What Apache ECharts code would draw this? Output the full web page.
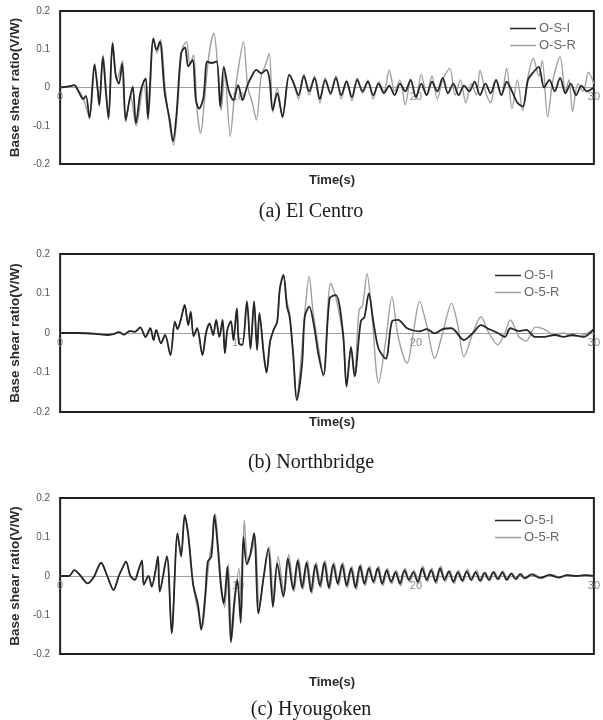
<!DOCTYPE html>
<html>
<head>
<meta charset="utf-8">
<script src="https://cdn.jsdelivr.net/npm/echarts@6/dist/echarts.min.js"></script>
<style>
  html, body { margin: 0; padding: 0; background: #fff; }
  #chart { width: 603px; height: 720px; }
</style>
</head>
<body>
<div id="chart"></div>
<script>
// tick labels
var xTicks = [0, 10, 20, 30];
var yTicks = [-0.2, -0.1, 0, 0.1, 0.2];

var captions = ['(a) El Centro', '(b) Northbridge', '(c) Hyougoken'];
var legendA = ['O-S-I', 'O-S-R'];
var legendB = ['O-5-I', 'O-5-R'];
var legendC = ['O-5-I', 'O-5-R'];

// (a) El Centro, [time s, V/W]
var elCentroI = [[0,0],[0.5,0.003],[0.8,0.006],[1.0,-0.007],[1.3,-0.03],[1.45,-0.022],[1.65,-0.08],[1.93,0.06],[2.1,0.0],[2.2,-0.045],[2.4,0.08],[2.57,-0.01],[2.72,-0.08],[2.94,0.115],[3.13,0.03],[3.3,0.01],[3.49,0.063],[3.68,-0.085],[3.9,-0.033],[4.08,0.002],[4.26,-0.094],[4.5,-0.015],[4.69,0.015],[4.82,0.024],[4.93,-0.08],[5.24,0.128],[5.42,0.098],[5.6,0.12],[5.88,-0.015],[6.16,-0.085],[6.34,-0.14],[6.53,-0.076],[6.8,0.09],[7.02,0.105],[7.2,0.055],[7.44,0.072],[7.63,-0.033],[7.81,-0.055],[8.05,-0.028],[8.27,0.068],[8.5,0.064],[8.79,0.068],[9.0,-0.05],[9.2,0.054],[9.47,-0.007],[9.74,-0.033],[10.0,0.006],[10.26,-0.033],[10.5,0.002],[10.75,0.028],[11.03,0.046],[11.3,0.037],[11.58,0.046],[11.76,0.024],[11.95,-0.059],[12.2,-0.015],[12.5,-0.076],[12.87,0.033],[13.1,0.015],[13.4,-0.02],[13.7,0.03],[14.0,-0.01],[14.3,0.025],[14.6,-0.03],[14.9,0.02],[15.2,-0.015],[15.5,0.025],[15.8,-0.02],[16.1,0.015],[16.4,-0.025],[16.7,0.02],[17.0,-0.01],[17.3,0.015],[17.6,-0.02],[17.9,0.01],[18.2,-0.015],[18.5,0.005],[18.8,-0.02],[19.1,0.01],[19.4,-0.01],[19.7,0.02],[20.0,-0.025],[20.3,0.01],[20.6,-0.02],[20.9,0.015],[21.2,-0.01],[21.5,0.025],[21.8,-0.015],[22.1,0.01],[22.4,-0.02],[22.7,0.005],[23.0,-0.01],[23.3,0.015],[23.6,-0.02],[23.9,0.01],[24.2,-0.015],[24.5,0.02],[24.8,-0.02],[25.1,0.015],[25.4,-0.01],[25.7,-0.04],[26.0,-0.05],[26.3,0.02],[26.6,0.04],[26.9,0.054],[27.2,0.0],[27.5,0.02],[27.8,-0.01],[28.1,0.025],[28.4,-0.015],[28.7,0.01],[29.0,-0.02],[29.3,0.005],[29.6,-0.01],[30,0.0]];
var elCentroR = [[0,0],[0.5,0.003],[0.8,0.006],[1.0,-0.005],[1.3,-0.028],[1.65,-0.078],[1.95,0.062],[2.2,-0.05],[2.42,0.085],[2.72,-0.085],[2.96,0.12],[3.2,0.02],[3.5,0.07],[3.7,-0.09],[3.95,-0.02],[4.28,-0.1],[4.7,0.01],[4.95,-0.085],[5.25,0.13],[5.45,0.09],[5.65,0.125],[5.9,0.0],[6.2,-0.11],[6.38,-0.15],[6.6,-0.05],[6.85,0.1],[7.1,0.12],[7.3,0.06],[7.5,0.085],[7.7,-0.06],[7.9,-0.12],[8.1,-0.04],[8.35,0.08],[8.64,0.142],[8.85,0.06],[9.05,-0.06],[9.25,0.04],[9.56,-0.128],[9.8,-0.02],[10.05,0.06],[10.3,0.12],[10.55,0.0],[10.8,-0.04],[11.03,-0.085],[11.3,0.03],[11.55,0.06],[11.76,0.09],[11.95,-0.065],[12.2,0.0],[12.5,-0.08],[12.9,0.035],[13.2,0.0],[13.4,-0.03],[13.7,0.035],[14.0,-0.02],[14.3,0.03],[14.6,-0.04],[14.9,0.025],[15.2,-0.02],[15.5,0.03],[15.8,-0.03],[16.1,0.02],[16.4,-0.035],[16.7,0.025],[17.0,-0.015],[17.3,0.02],[17.6,-0.03],[17.9,0.015],[18.2,-0.01],[18.5,0.045],[18.8,-0.01],[19.1,0.02],[19.4,-0.045],[19.7,0.02],[20.0,-0.03],[20.3,0.035],[20.6,-0.02],[20.9,0.03],[21.2,-0.03],[21.5,0.02],[21.9,0.05],[22.2,-0.02],[22.5,0.02],[22.8,-0.04],[23.1,0.01],[23.4,-0.02],[23.6,0.045],[23.9,-0.01],[24.2,-0.04],[24.5,0.02],[24.8,-0.02],[25.1,0.05],[25.4,-0.055],[25.7,0.02],[26.0,-0.06],[26.3,0.03],[26.6,0.076],[26.9,0.03],[27.1,0.07],[27.4,-0.077],[27.7,0.02],[28.1,0.08],[28.4,-0.01],[28.6,0.02],[28.8,-0.063],[29.1,0.01],[29.4,-0.01],[29.7,0.04],[30,0.01]];

// (b) Northbridge
var northI = [[0,0],[1,0],[2,-0.002],[2.7,-0.005],[3.0,-0.003],[3.3,0.002],[3.6,-0.004],[3.9,0.005],[4.2,0.003],[4.5,0.014],[4.8,-0.01],[5.07,0.012],[5.25,-0.018],[5.4,0.008],[5.67,-0.026],[5.9,-0.005],[6.2,-0.056],[6.45,0.029],[6.6,0.01],[6.8,0.037],[7.0,0.071],[7.2,0.02],[7.34,0.054],[7.5,-0.008],[7.7,0.012],[8.0,-0.056],[8.2,0.0],[8.4,0.024],[8.6,-0.005],[8.77,0.033],[8.95,-0.01],[9.13,0.033],[9.26,-0.051],[9.4,0.008],[9.6,0.03],[9.74,-0.018],[9.93,0.062],[10.05,-0.026],[10.24,-0.03],[10.5,0.08],[10.7,-0.04],[10.9,0.08],[11.07,-0.043],[11.2,0.05],[11.45,-0.056],[11.6,-0.1],[11.8,-0.022],[12.0,0.008],[12.2,0.029],[12.35,0.113],[12.55,0.147],[12.75,0.067],[12.9,0.041],[13.1,-0.056],[13.3,-0.17],[13.6,-0.078],[13.75,0.041],[14.0,0.067],[14.3,0.01],[14.5,-0.05],[14.8,-0.106],[15.15,0.088],[15.5,0.096],[15.9,0.0],[16.1,-0.136],[16.35,-0.035],[16.55,-0.11],[16.9,0.03],[17.1,0.04],[17.35,0.1],[17.6,0.03],[17.9,-0.04],[18.3,-0.065],[18.65,0.029],[19.0,0.033],[19.5,0.012],[20.2,0.004],[20.6,0.01],[21.05,-0.001],[21.5,0.01],[22.0,0.012],[22.7,-0.018],[23.2,0.0],[23.65,0.02],[24.1,0.01],[24.6,0.0],[25.0,-0.01],[25.3,0.012],[25.8,0.005],[26.2,0.008],[26.7,-0.01],[27.2,-0.01],[27.8,-0.005],[28.3,-0.01],[28.8,-0.005],[29.4,-0.01],[30,0.01]];
var northR = [[0,0],[1,0],[2,-0.002],[2.7,-0.005],[3.0,-0.003],[3.3,0.002],[3.6,-0.004],[3.9,0.005],[4.2,0.003],[4.5,0.014],[4.8,-0.01],[5.07,0.012],[5.25,-0.018],[5.4,0.008],[5.67,-0.026],[5.9,-0.005],[6.2,-0.056],[6.45,0.029],[6.6,0.01],[6.8,0.037],[7.0,0.071],[7.2,0.02],[7.34,0.054],[7.5,-0.008],[7.7,0.012],[8.0,-0.056],[8.2,0.0],[8.4,0.024],[8.6,-0.005],[8.77,0.033],[8.95,-0.01],[9.13,0.033],[9.26,-0.051],[9.4,0.008],[9.6,0.03],[9.74,-0.018],[9.93,0.062],[10.05,-0.026],[10.24,-0.03],[10.5,0.08],[10.7,-0.04],[10.9,0.08],[11.07,-0.043],[11.2,0.05],[11.45,-0.056],[11.6,-0.1],[11.8,-0.022],[12.0,0.008],[12.2,0.029],[12.35,0.11],[12.55,0.145],[12.75,0.08],[12.9,0.05],[13.1,-0.05],[13.3,-0.165],[13.55,-0.06],[13.75,0.05],[14.0,0.143],[14.2,0.06],[14.5,-0.03],[14.8,-0.11],[15.2,0.126],[15.5,0.09],[15.9,-0.01],[16.1,-0.13],[16.35,-0.04],[16.55,-0.1],[16.8,0.058],[17.0,0.07],[17.25,0.15],[17.5,0.06],[17.9,-0.127],[18.3,-0.02],[18.65,0.092],[19.0,-0.01],[19.5,-0.077],[19.85,0.0],[20.2,0.08],[20.6,0.02],[21.05,-0.064],[21.5,0.0],[22.0,0.075],[22.35,0.02],[22.7,-0.06],[23.2,0.0],[23.65,0.041],[24.1,0.0],[24.6,-0.03],[25.0,0.0],[25.3,0.033],[25.8,-0.01],[26.2,-0.02],[26.7,0.015],[27.2,0.01],[27.8,-0.005],[28.3,0.0],[28.8,-0.008],[29.4,-0.005],[30,0.01]];

// (c) Hyougoken
var hyogoI = [[0,0],[0.5,0.0],[0.8,0.015],[1.1,0.003],[1.55,-0.019],[1.9,-0.002],[2.3,0.034],[2.65,0.0],[3.0,-0.036],[3.3,0.0],[3.5,0.02],[3.7,0.037],[3.95,0.0],[4.2,-0.01],[4.4,0.015],[4.6,0.04],[4.7,-0.022],[4.97,0.0],[5.15,-0.027],[5.35,0.011],[5.5,0.05],[5.6,-0.04],[6.0,0.05],[6.27,-0.147],[6.6,0.11],[6.8,0.05],[7.0,0.156],[7.2,0.105],[7.47,-0.02],[7.75,-0.074],[7.93,-0.138],[8.15,-0.053],[8.3,0.037],[8.5,0.05],[8.67,0.156],[8.85,0.08],[9.04,-0.027],[9.2,-0.07],[9.4,0.024],[9.6,-0.17],[9.78,-0.07],[9.96,-0.01],[10.15,-0.12],[10.3,0.1],[10.5,0.03],[10.7,0.058],[10.9,0.11],[11.15,-0.096],[11.4,-0.015],[11.7,0.07],[11.96,-0.079],[12.2,0.032],[12.55,-0.053],[12.8,0.045],[13.1,-0.035],[13.35,0.04],[13.6,-0.03],[13.85,0.035],[14.1,-0.04],[14.35,0.03],[14.6,-0.025],[14.85,0.035],[15.1,-0.03],[15.35,0.03],[15.6,-0.02],[15.85,0.03],[16.1,-0.025],[16.35,0.02],[16.6,-0.03],[16.85,0.025],[17.1,-0.02],[17.35,0.02],[17.6,-0.015],[17.85,0.02],[18.1,-0.02],[18.35,0.015],[18.6,-0.015],[18.85,0.01],[19.1,-0.02],[19.35,0.015],[19.6,-0.01],[19.85,0.01],[20.1,-0.015],[20.35,0.02],[20.6,-0.01],[20.85,0.015],[21.1,-0.015],[21.35,0.02],[21.6,-0.01],[21.85,0.012],[22.1,-0.015],[22.35,0.01],[22.6,-0.012],[22.85,0.012],[23.1,-0.01],[23.35,0.01],[23.6,-0.012],[23.85,0.008],[24.1,-0.01],[24.35,0.01],[24.6,-0.008],[24.85,0.01],[25.1,-0.01],[25.35,0.006],[25.6,-0.008],[25.85,0.005],[26.1,-0.006],[26.5,0.004],[27.0,-0.005],[27.5,0.003],[28.0,-0.004],[28.5,0.002],[29.0,0.0],[29.5,0.002],[30,0.0]];
var hyogoR = [[0,0],[0.5,0.0],[0.8,0.015],[1.1,0.003],[1.55,-0.019],[1.9,-0.002],[2.3,0.034],[2.65,0.0],[3.0,-0.036],[3.3,0.0],[3.5,0.02],[3.7,0.037],[3.95,0.0],[4.2,-0.01],[4.4,0.015],[4.6,0.04],[4.7,-0.022],[4.97,0.0],[5.15,-0.027],[5.35,0.011],[5.5,0.05],[5.6,-0.04],[6.0,0.05],[6.27,-0.145],[6.6,0.1],[6.8,0.06],[7.02,0.15],[7.25,0.09],[7.5,-0.03],[7.8,-0.1],[8.0,-0.13],[8.2,-0.04],[8.4,0.05],[8.55,0.09],[8.72,0.16],[8.9,0.07],[9.1,-0.04],[9.25,-0.08],[9.45,0.03],[9.65,-0.16],[9.85,-0.05],[10.05,0.02],[10.2,-0.09],[10.35,0.143],[10.55,0.04],[10.75,0.06],[10.95,0.1],[11.2,-0.08],[11.45,0.0],[11.75,0.075],[12.0,-0.07],[12.25,0.05],[12.6,-0.045],[12.85,0.055],[13.15,-0.04],[13.4,0.045],[13.65,-0.035],[13.9,0.04],[14.15,-0.045],[14.4,0.035],[14.65,-0.03],[14.9,0.04],[15.15,-0.035],[15.4,0.035],[15.65,-0.025],[15.9,0.035],[16.15,-0.03],[16.4,0.025],[16.65,-0.035],[16.9,0.03],[17.15,-0.025],[17.4,0.025],[17.65,-0.02],[17.9,0.025],[18.15,-0.025],[18.4,0.02],[18.65,-0.02],[18.9,0.015],[19.15,-0.025],[19.4,0.02],[19.65,-0.015],[19.9,0.015],[20.15,-0.02],[20.4,0.025],[20.65,-0.015],[20.9,0.02],[21.15,-0.02],[21.4,0.025],[21.65,-0.015],[21.9,0.015],[22.15,-0.02],[22.4,0.015],[22.65,-0.015],[22.9,0.018],[23.15,-0.012],[23.4,0.015],[23.65,-0.015],[23.9,0.01],[24.15,-0.012],[24.4,0.012],[24.65,-0.01],[24.9,0.012],[25.15,-0.01],[25.4,0.008],[25.65,-0.01],[25.9,0.006],[26.2,-0.006],[26.6,0.005],[27.1,-0.005],[27.6,0.004],[28.1,-0.004],[28.6,0.003],[29.1,0.0],[29.6,0.002],[30,0.0]];

var sans = '"Liberation Sans", Arial, sans-serif';
var serif = '"Liberation Serif", "Times New Roman", serif';

var grids = [
    { left: 57, top: 11, width: 544, height: 153 },
    { left: 57, top: 254, width: 541, height: 158 },
    { left: 58, top: 498, width: 540, height: 156 }
];
var panels = [
    { names: legendA, I: elCentroI, R: elCentroR, timeY: 180, capY: 212, legX: 505, legY: 17 },
    { names: legendB, I: northI, R: northR, timeY: 422, capY: 463, legX: 490, legY: 264 },
    { names: legendC, I: hyogoI, R: hyogoR, timeY: 682, capY: 710, legX: 490, legY: 509 }
];

var option = {
    backgroundColor: '#fff',
    animation: false,
    grid: [],
    xAxis: [],
    yAxis: [],
    legend: [],
    series: [],
    graphic: []
};

panels.forEach(function(p, i) {
    var g = grids[i];
    option.grid.push({
        left: g.left, top: g.top, width: g.width, height: g.height,
        show: true, borderColor: '#1e1e1e', borderWidth: 2, backgroundColor: 'transparent'
    });
    // x axis sits on the zero line, labels just under it
    option.xAxis.push({
        gridIndex: i,
        type: 'value',
        position: 'bottom',
        offset: -g.height / 2,
        min: xTicks[0],
        max: xTicks[xTicks.length - 1],
        interval: 10,
        axisLine: { onZero: false, lineStyle: { color: '#a0a0a0', width: 1 } },
        axisTick: { show: false },
        splitLine: { show: false },
        axisLabel: { color: '#8a8a8a', fontSize: 11, fontFamily: sans, margin: 4 }
    });
    option.yAxis.push({
        gridIndex: i,
        type: 'value',
        min: yTicks[0],
        max: yTicks[yTicks.length - 1],
        interval: 0.1,
        name: 'Base shear ratio(V/W)',
        nameLocation: 'middle',
        nameGap: 38,
        nameTextStyle: { color: '#2a2a2a', fontSize: 13.5, fontWeight: 'bold', fontFamily: sans },
        axisLine: { show: false },
        axisTick: { show: false },
        splitLine: { show: false },
        axisLabel: {
            color: '#555', fontSize: 10, fontFamily: sans, margin: 10,
            formatter: function(v) { return Math.abs(v) < 1e-9 ? '0' : v.toFixed(1); }
        }
    });
    option.legend.push({
        data: p.names,
        orient: 'vertical',
        left: p.legX,
        top: p.legY,
        icon: 'rect',
        itemWidth: 26,
        itemHeight: 1.5,
        itemGap: 4,
        textStyle: { color: '#666', fontSize: 13, fontFamily: sans, padding: [0, 0, 0, -2] }
    });
    option.series.push({
        name: p.names[1], type: 'line', xAxisIndex: i, yAxisIndex: i,
        data: p.R, showSymbol: false, smooth: 0.3, z: 2,
        lineStyle: { color: '#a0a0a0', width: 1.4 }, itemStyle: { color: '#a0a0a0' }
    });
    option.series.push({
        name: p.names[0], type: 'line', xAxisIndex: i, yAxisIndex: i,
        data: p.I, showSymbol: false, smooth: 0.3, z: 3,
        lineStyle: { color: '#262626', width: 1.8 }, itemStyle: { color: '#262626' }
    });
    option.graphic.push({
        type: 'text', x: 332, y: p.timeY,
        style: { text: 'Time(s)', fill: '#2a2a2a', font: 'bold 13px ' + sans, textAlign: 'center', textVerticalAlign: 'middle' }
    });
    option.graphic.push({
        type: 'text', x: 311, y: p.capY,
        style: { text: captions[i], fill: '#1a1a1a', font: '20px ' + serif, textAlign: 'center', textVerticalAlign: 'middle' }
    });
});

var myChart = echarts.init(document.getElementById('chart'));
myChart.setOption(option);
</script>
</body>
</html>
